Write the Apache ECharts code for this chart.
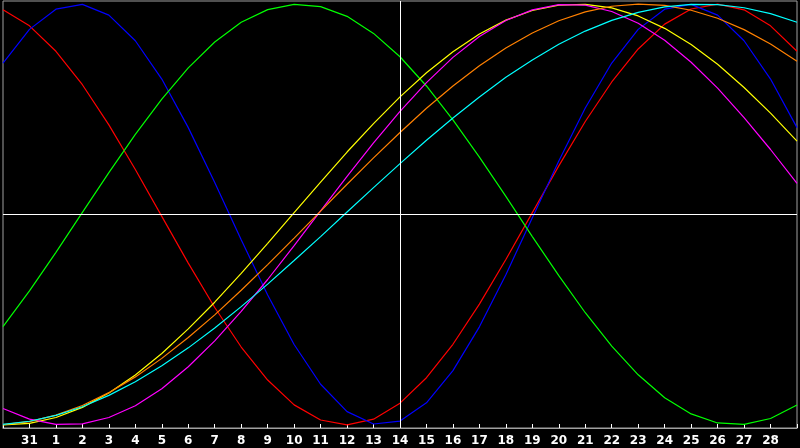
<!DOCTYPE html>
<html>
<head>
<meta charset="utf-8">
<script src="https://cdn.jsdelivr.net/npm/echarts@6/dist/echarts.min.js"></script>
<style>
html,body{margin:0;padding:0;background:#000;}
#chart{width:800px;height:448px;}
</style>
</head>
<body>
<div id="chart"></div>
<script>
const days = ['30','31','1','2','3','4','5','6','7','8','9','10','11','12','13','14','15','16','17','18','19','20','21','22','23','24','25','26','27','28','29'];
const todayLabel = '14';

const emotional = [0.973,0.897,0.776,0.617,0.426,0.214,-0.009,-0.231,-0.442,-0.630,-0.787,-0.905,-0.977,-1.000,-0.973,-0.897,-0.776,-0.617,-0.426,-0.214,0.009,0.231,0.442,0.630,0.787,0.905,0.977,1.000,0.973,0.897,0.776];
const physical = [0.720,0.880,0.976,0.999,0.948,0.826,0.644,0.413,0.152,-0.120,-0.383,-0.618,-0.807,-0.937,-0.996,-0.982,-0.895,-0.742,-0.534,-0.286,-0.016,0.254,0.506,0.720,0.880,0.976,0.999,0.948,0.826,0.644,0.413];
const intellectual = [-0.533,-0.363,-0.180,0.010,0.199,0.381,0.549,0.697,0.820,0.914,0.974,0.999,0.988,0.942,0.861,0.750,0.611,0.450,0.273,0.086,-0.105,-0.291,-0.467,-0.626,-0.762,-0.871,-0.948,-0.991,-0.998,-0.970,-0.906];
const aesthetic = [-1.000,-0.993,-0.965,-0.917,-0.849,-0.763,-0.661,-0.544,-0.417,-0.280,-0.137,0.009,0.154,0.297,0.432,0.559,0.674,0.774,0.858,0.924,0.970,0.995,0.999,0.982,0.944,0.885,0.808,0.714,0.604,0.482,0.349];
const intuitive = [-0.922,-0.973,-0.998,-0.995,-0.965,-0.909,-0.828,-0.724,-0.601,-0.461,-0.309,-0.148,0.017,0.181,0.340,0.490,0.627,0.747,0.846,0.922,0.973,0.998,0.995,0.965,0.909,0.828,0.724,0.601,0.461,0.309,0.148];
const awareness = [-0.999,-0.985,-0.954,-0.908,-0.847,-0.772,-0.684,-0.585,-0.477,-0.360,-0.238,-0.112,0.016,0.144,0.269,0.390,0.505,0.611,0.707,0.792,0.863,0.921,0.963,0.990,1.000,0.994,0.971,0.933,0.879,0.811,0.729];
const spiritual = [-0.998,-0.983,-0.955,-0.914,-0.860,-0.795,-0.719,-0.634,-0.540,-0.438,-0.331,-0.219,-0.105,0.012,0.128,0.242,0.353,0.459,0.559,0.652,0.735,0.809,0.872,0.923,0.961,0.987,0.999,0.998,0.983,0.955,0.914];

const seriesDefs = [
  {name:'Emotional', data:emotional, color:'#ff0000'},
  {name:'Physical', data:physical, color:'#0000ff'},
  {name:'Intellectual', data:intellectual, color:'#00ff00'},
  {name:'Aesthetic', data:aesthetic, color:'#ffff00'},
  {name:'Intuitive', data:intuitive, color:'#ff00ff'},
  {name:'Awareness', data:awareness, color:'#ff8000'},
  {name:'Spiritual', data:spiritual, color:'#00ffff'}
];

const chart = echarts.init(document.getElementById('chart'), null, {renderer:'canvas'});
const series = seriesDefs.map(function(d){
  return {
    name:d.name, type:'line', data:d.data, showSymbol:false, symbol:'none',
    lineStyle:{color:d.color, width:1.2}, itemStyle:{color:d.color},
    silent:true
  };
});
series.push({
  type:'line', data:[], silent:true,
  markLine:{
    silent:true, symbol:'none', animation:false,
    label:{show:false},
    lineStyle:{color:'#ffffff', type:'solid', width:1},
    data:[{xAxis:todayLabel},{yAxis:0}]
  }
});

chart.setOption({
  backgroundColor:'#000000',
  animation:false,
  grid:{left:1, right:1, top:1, bottom:20, show:true, borderColor:'#a0a0a0', borderWidth:1, backgroundColor:'#000000'},
  xAxis:{
    type:'category', data:days, boundaryGap:false,
    axisLine:{show:true, onZero:false, lineStyle:{color:'#a0a0a0', width:1}},
    axisTick:{show:true, inside:true, length:4, interval:0, lineStyle:{color:'#ffffff'}},
    axisLabel:{
      show:true, interval:0, color:'#ffffff', fontWeight:'bold', fontSize:12,
      fontFamily:'DejaVu Sans', margin:7,
      formatter:function(v, i){ return (i===0 || i===days.length-1) ? '' : v; }
    },
    splitLine:{show:false}
  },
  yAxis:{
    type:'value', min:-1.015, max:1.015, show:false,
    splitLine:{show:false}
  },
  series:series
});
</script>
</body>
</html>
